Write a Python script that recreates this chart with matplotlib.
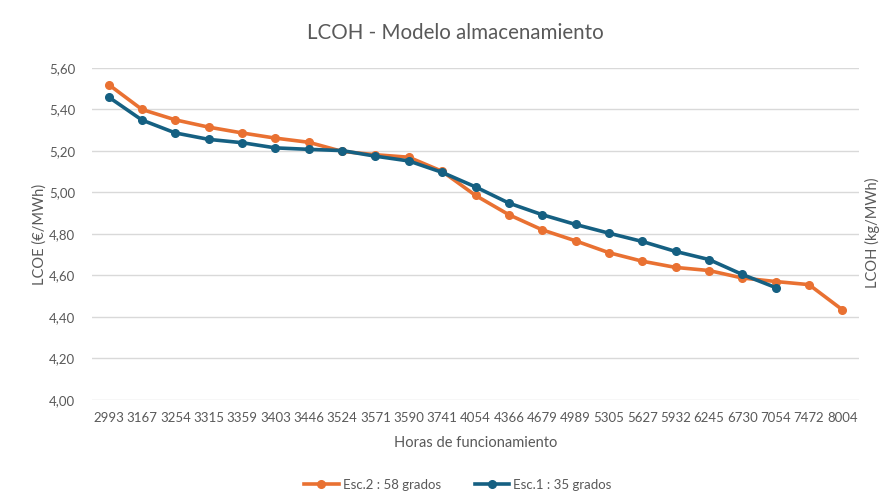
import matplotlib
matplotlib.use('Agg')
from matplotlib import pyplot as plt
from matplotlib.ticker import FuncFormatter

# categories (operating hours)
horas = ['2993', '3167', '3254', '3315', '3359', '3403', '3446', '3524', '3571', '3590', '3741',
         '4054', '4366', '4679', '4989', '5305', '5627', '5932', '6245', '6730', '7054', '7472', '8004']
# LCOH series
esc2 = [5.52, 5.40, 5.35, 5.315, 5.287, 5.262, 5.242, 5.198, 5.182, 5.170, 5.102,
        4.986, 4.893, 4.820, 4.767, 4.710, 4.669, 4.639, 4.624, 4.588, 4.571, 4.556, 4.435]
esc1 = [5.460, 5.349, 5.287, 5.256, 5.240, 5.215, 5.208, 5.202, 5.175, 5.152, 5.097,
        5.027, 4.949, 4.893, 4.846, 4.804, 4.764, 4.716, 4.677, 4.605, 4.542]
etiquetas = ['Esc.2 : 58 grados', 'Esc.1 : 35 grados']

plt.rcParams['font.family'] = ['Lato', 'DejaVu Sans']
gris = '#595959'
naranja = '#E97132'
azul = '#156082'

fig = plt.figure(figsize=(8.91, 5.03), dpi=100)
ax = fig.add_axes([92 / 891, 1 - 400 / 503, (859 - 92) / 891, (400 - 68) / 503])

x2 = list(range(len(esc2)))
x1 = list(range(len(esc1)))
ax.plot(x2, esc2, color=naranja, lw=2.6, marker='o', ms=5.5, label=etiquetas[0], zorder=3)
ax.plot(x1, esc1, color=azul, lw=2.6, marker='o', ms=5.5, label=etiquetas[1], zorder=4)

ax.set_xlim(-0.5, len(horas) - 0.5)
ax.set_ylim(4.0, 5.6)
ax.set_yticks([4.0 + 0.2 * i for i in range(9)])
ax.yaxis.set_major_formatter(FuncFormatter(lambda v, p: ('%.2f' % v).replace('.', ',')))
ax.set_xticks(x2)
ax.set_xticklabels(horas)
ax.grid(axis='y', color='#D9D9D9', lw=1)
ax.set_axisbelow(True)
for s in ax.spines.values():
    s.set_visible(False)
ax.tick_params(length=0, colors=gris, labelsize=9.5)
ax.tick_params(axis='x', pad=9)
ax.tick_params(axis='y', pad=12)

fig.text(455 / 891, 1 - 33 / 503, 'LCOH - Modelo almacenamiento', fontsize=14.8, color=gris,
         ha='center', va='center')
ax.set_xlabel('Horas de funcionamiento', fontsize=10.5, color=gris, labelpad=8)
ax.set_ylabel('LCOE (€/MWh)', fontsize=10.5, color=gris, labelpad=2)
fig.text(872 / 891, 1 - 233 / 503, 'LCOH (kg/MWh)', rotation=90, fontsize=10.5,
         color=gris, ha='center', va='center')

fig.legend(loc='center', bbox_to_anchor=(458 / 891, 1 - 485 / 503), ncol=2, frameon=False,
           fontsize=9.5, labelcolor=gris, handlelength=2.6, handletextpad=0.3, columnspacing=2.6)

fig.savefig('out.png', dpi=100, facecolor='white')
